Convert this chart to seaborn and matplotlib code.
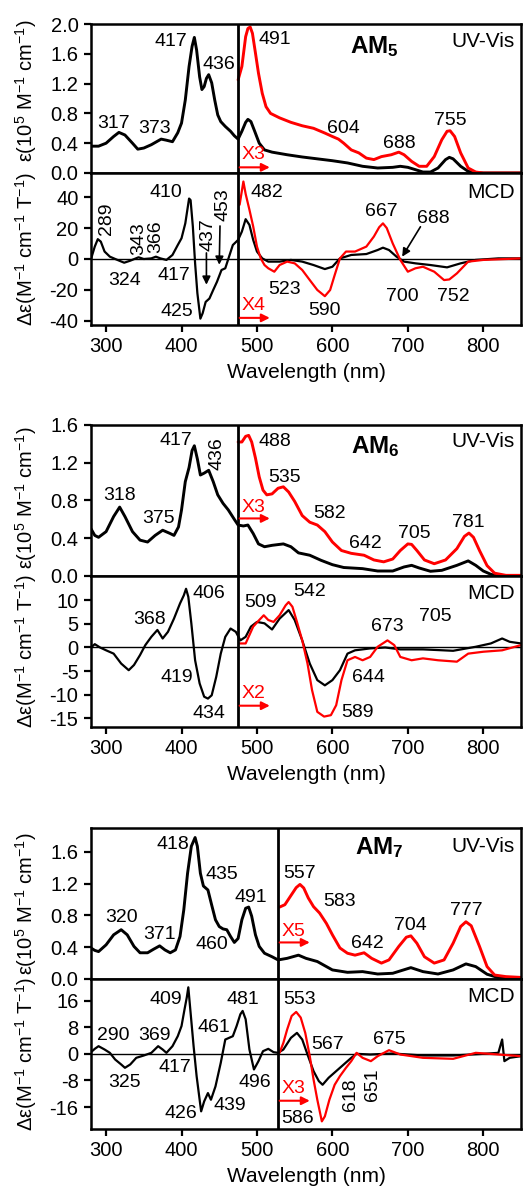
import numpy as np
import pandas as pd
import matplotlib
matplotlib.use("Agg")
import matplotlib.pyplot as plt
import seaborn as sns

# ---------------- DATA ----------------
# AM5 UV-Vis (1e5 M-1 cm-1)
am5_uv_wl = [280,290,300,310,317,325,335,342,350,360,373,380,388,395,400,405,410,414,417,420,424,427,430,433,436,440,444,448,452,458,465,470,475,480,485,488,492,497,503,510,520,540,560,580,600,620,640,660,680,690,700,710,720,730,740,750,755,760,770,780,790,800,850]
am5_uv_black = [0.36,0.36,0.40,0.49,0.545,0.51,0.40,0.32,0.335,0.38,0.455,0.44,0.42,0.54,0.67,0.98,1.43,1.70,1.82,1.65,1.29,1.12,1.16,1.27,1.32,1.21,0.98,0.78,0.69,0.625,0.56,0.50,0.455,0.56,0.68,0.72,0.69,0.56,0.40,0.31,0.28,0.245,0.215,0.19,0.165,0.135,0.09,0.067,0.076,0.09,0.076,0.045,0.013,0.013,0.067,0.18,0.21,0.19,0.09,0.022,0.005,0.0,0.0]
am5_uvx_wl = [475,480,485,488,491,494,498,502,507,512,518,530,545,560,575,590,600,608,615,625,635,645,655,665,678,688,695,705,715,725,735,745,752,756,762,770,780,790,800,850]
am5_uvx_red = [1.25,1.43,1.83,1.94,1.96,1.875,1.61,1.34,1.07,0.89,0.80,0.74,0.68,0.634,0.60,0.536,0.49,0.455,0.40,0.31,0.27,0.20,0.18,0.22,0.245,0.28,0.245,0.156,0.09,0.09,0.22,0.446,0.56,0.567,0.49,0.27,0.067,0.013,0.0,0.0]
# AM5 MCD
am5_mcd_wl = [280,285,289,293,298,305,315,324,332,343,350,360,366,372,380,388,395,400,405,410,412,415,418,421,425,428,432,437,442,447,453,458,463,468,475,480,485,490,495,500,507,515,530,545,560,575,590,600,610,625,645,660,667,675,685,695,710,730,752,770,790,820,850]
am5_mcd_black = [0,8,12.8,11.2,4.8,1.5,-0.6,-2.4,-1.1,1.1,0,0.4,1.5,0.4,-0.6,2.6,9,13.4,23,39,38,21,-2.8,-22,-38.5,-35,-27.7,-25.5,-20,-14.7,-7.1,-6,1.5,9,12.3,17.7,25.7,22,12.3,4.8,0.4,-1.7,-1.7,-0.6,-1.7,-3.9,-6.5,-5,0.4,2.6,3.2,5.8,7.3,5.8,1.5,-1.7,-2.8,-3.9,-5.4,-2.8,-0.6,0.4,0.4]
am5_mcdx_wl = [477,480,482,485,490,495,500,505,510,515,523,530,540,550,560,570,580,590,597,603,610,618,630,645,655,662,667,672,680,690,700,710,720,735,748,755,765,780,800,850]
am5_mcdx_red = [35,44,50,42,31.8,21,8,0.4,-3.9,-6,-8.2,-3.9,-1.7,-2.8,-7.1,-13.6,-20,-24,-20,-10.4,0.4,4.8,4.8,8,14.5,20.5,23,20,10,-0.6,-8.2,-6,-5,-8.2,-13.6,-13.2,-9.3,-1.7,-0.6,0.4]

# AM6 UV-Vis
am6_uv_wl = [280,285,290,300,310,318,325,335,345,355,365,375,385,390,396,400,405,410,414,417,421,425,430,436,442,448,455,462,470,475,482,488,495,502,510,520,535,545,555,570,585,600,615,640,660,680,695,705,715,730,745,765,780,790,800,810,820,850]
am6_uv_black = [0.50,0.43,0.41,0.47,0.63,0.73,0.63,0.47,0.38,0.36,0.43,0.485,0.45,0.43,0.52,0.70,1.0,1.15,1.33,1.38,1.24,1.07,1.09,1.12,1.0,0.86,0.77,0.70,0.60,0.54,0.53,0.54,0.45,0.34,0.31,0.325,0.34,0.31,0.245,0.22,0.166,0.12,0.09,0.078,0.053,0.053,0.096,0.113,0.085,0.05,0.06,0.113,0.16,0.113,0.053,0.018,0.0,0.0]
am6_uvx_wl = [475,480,485,489,493,498,503,508,513,520,528,535,542,550,560,570,580,590,600,612,625,642,655,668,680,690,700,705,712,722,735,750,765,775,781,787,795,805,815,830,850]
am6_uvx_red = [1.42,1.42,1.48,1.49,1.42,1.25,1.05,0.91,0.86,0.87,0.93,0.945,0.89,0.79,0.64,0.57,0.54,0.47,0.36,0.27,0.24,0.22,0.17,0.15,0.18,0.27,0.34,0.335,0.27,0.17,0.13,0.17,0.29,0.42,0.455,0.41,0.27,0.11,0.03,0.007,0.007]
# AM6 MCD
am6_mcd_wl = [280,285,292,300,310,320,330,337,345,352,360,368,375,382,390,398,403,406,409,413,418,424,430,435,440,446,452,458,465,472,478,485,492,500,510,520,530,542,550,560,570,580,590,600,610,620,630,650,670,690,720,760,790,810,825,835,850]
am6_mcd_black = [0,0.7,0,-0.6,-1.3,-3.4,-4.8,-3.7,-1.6,0.5,2.25,3.7,1.9,3.3,6.1,9.3,11,12.4,10.7,5.1,-2.7,-7.6,-10.4,-10.8,-10.1,-6.2,-1.3,2.25,4.0,3.3,1.5,2.25,4.4,5.4,5.1,3.8,6.1,7.9,5.8,1.5,-3.4,-6.9,-8.0,-6.9,-4.8,-1.3,-0.6,-0.2,0,-0.4,-0.4,-0.7,0.15,0.85,1.9,1.2,0.85]
am6_mcdx_wl = [477,485,495,503,509,515,522,530,538,542,547,553,560,567,573,580,589,598,605,612,620,630,640,650,660,673,682,690,705,720,740,765,780,800,825,850]
am6_mcdx_red = [0.85,0.85,4.4,5.8,6.8,5.8,5.4,6.8,8.9,9.6,8.6,5.4,1.5,-3.4,-9.0,-13.6,-14.6,-14.3,-12.2,-6.9,-2.7,-2.0,-2.7,-2.0,0.15,1.5,0.5,-2.0,-2.7,-2.3,-2.7,-3.0,-1.3,-0.9,-0.6,0.5]

# AM7 UV-Vis
am7_uv_wl = [280,285,290,300,310,320,328,337,345,355,363,371,378,385,392,398,403,408,413,418,421,425,429,435,440,445,450,455,460,465,470,475,480,485,489,493,498,503,510,520,528,540,555,565,580,600,620,640,660,680,704,720,740,760,777,790,805,820,850]
am7_uv_black = [0.39,0.36,0.345,0.43,0.556,0.62,0.556,0.41,0.33,0.33,0.375,0.417,0.366,0.33,0.366,0.535,0.87,1.33,1.67,1.78,1.67,1.33,1.17,1.12,0.93,0.745,0.66,0.63,0.62,0.535,0.46,0.51,0.745,0.89,0.905,0.79,0.556,0.41,0.324,0.28,0.24,0.26,0.30,0.26,0.22,0.114,0.084,0.093,0.063,0.072,0.143,0.093,0.063,0.114,0.19,0.156,0.06,0.017,0.0]
am7_uvx_wl = [530,537,545,552,557,562,568,575,583,592,600,610,620,630,642,652,665,675,688,698,704,712,722,735,748,760,770,777,784,795,805,815,830,850]
am7_uvx_red = [0.905,0.935,1.05,1.15,1.19,1.145,1.02,0.91,0.83,0.70,0.556,0.39,0.324,0.30,0.33,0.26,0.20,0.24,0.41,0.526,0.543,0.45,0.28,0.20,0.24,0.45,0.66,0.72,0.67,0.41,0.156,0.05,0.03,0.02]
# AM7 MCD
am7_mcd_wl = [280,285,290,298,305,312,320,325,332,340,350,360,369,375,380,388,395,400,404,407,409,412,416,420,424,426,430,435,439,445,452,458,463,468,473,478,481,485,490,496,502,508,515,522,528,535,545,553,560,567,575,582,587,595,605,615,625,632,650,680,720,760,800,820,825,828,835,850]
am7_mcd_black = [0.5,1.5,2.3,1.3,0.3,-1.7,-3.2,-4.2,-3.2,-1.2,-0.5,0.3,2.3,1.3,0.3,2.3,5.3,8.35,13.4,17,20,12.4,2.3,-6.7,-13.8,-17.3,-14.3,-11.8,-13.8,-9.8,-2.7,4.3,4.8,5.3,8.35,11.9,12.9,10.4,1.3,-4.7,-2.2,0.8,1.5,0.5,0.3,1.3,4.8,6.3,4.3,-0.2,-5.2,-8.2,-9.3,-7.2,-5.2,-3.2,-1.2,0,-0.2,0.1,-0.5,-0.5,0,0.3,4.3,-2.2,-1.2,-0.7]
am7_mcdx_wl = [530,535,540,546,552,558,564,570,575,580,586,590,596,603,610,618,625,632,640,651,660,675,690,720,760,790,820,850]
am7_mcdx_red = [0.3,3.3,7.3,11.4,12.6,10.9,6.3,-0.7,-7.7,-13.8,-20.3,-18.8,-13.8,-9.3,-6.7,-4.2,-2.2,0.3,-1.2,-2.2,-0.7,1.1,-0.2,-1.2,-1.5,0.3,-0.2,-0.7]

x_ticks = [300, 400, 500, 600, 700, 800]
uv_ticks = [[0.0, 0.4, 0.8, 1.2, 1.6, 2.0], [0.0, 0.4, 0.8, 1.2, 1.6], [0.0, 0.4, 0.8, 1.2, 1.6]]
mcd_ticks = [[-40, -20, 0, 20, 40], [-15, -10, -5, 0, 5, 10], [-16, -8, 0, 8, 16]]
compounds = ["5", "6", "7"]
multipliers_uv = ["X3", "X3", "X5"]
multipliers_mcd = ["X4", "X2", "X3"]
separators = [475, 475, 528]

# ---------------- STYLE ----------------
sns.set_style("ticks")
plt.rcParams['font.family'] = ['Liberation Sans', 'DejaVu Sans']
plt.rcParams['mathtext.fontset'] = 'custom'
plt.rcParams['mathtext.rm'] = 'Liberation Sans'
plt.rcParams['mathtext.default'] = 'regular'
plt.rcParams['axes.unicode_minus'] = False
plt.rcParams['axes.linewidth'] = 1.8
for k in ['text.color', 'axes.labelcolor', 'xtick.color', 'ytick.color', 'axes.edgecolor']:
    plt.rcParams[k] = 'black'

W, H = 523, 1187
fig = plt.figure(figsize=(W / 100, H / 100), dpi=100)

def fa(top, bottom, left=91, right=521):
    return [left / W, 1 - bottom / H, (right - left) / W, (bottom - top) / H]

layout = [((24, 173), (173, 325)), ((425, 576), (576, 727)), ((828, 979), (979, 1129))]
uv_ylim = [(0, 2.0), (0, 1.6), (0, 1.9)]
mcd_ylim = [(-42.6, 55.5), (-16.8, 15.1), (-22.6, 22.5)]

uv_sets = [(am5_uv_wl, am5_uv_black, am5_uvx_wl, am5_uvx_red),
           (am6_uv_wl, am6_uv_black, am6_uvx_wl, am6_uvx_red),
           (am7_uv_wl, am7_uv_black, am7_uvx_wl, am7_uvx_red)]
mcd_sets = [(am5_mcd_wl, am5_mcd_black, am5_mcdx_wl, am5_mcdx_red),
            (am6_mcd_wl, am6_mcd_black, am6_mcdx_wl, am6_mcdx_red),
            (am7_mcd_wl, am7_mcd_black, am7_mcdx_wl, am7_mcdx_red)]

RED = '#ff0000'
FS = 14
TFS = 14.5

def line(ax, x, y, color, lw=2.0):
    df = pd.DataFrame({'wl': x, 'v': y})
    sns.lineplot(data=df, x='wl', y='v', ax=ax, color=color, lw=lw,
                 estimator=None, sort=False)

uv_ann = [
    [(386, 1.76, "417", 0), (450, 1.45, "436", 0), (310, 0.67, "317", 0), (364, 0.60, "373", 0),
     (524, 1.79, "491", 0), (614, 0.60, "604", 0), (689, 0.40, "688", 0), (756, 0.71, "755", 0)],
    [(393, 1.44, "417", 0), (447, 1.30, "436", 90), (317.5, 0.85, "318", 0), (370, 0.61, "375", 0),
     (524, 1.42, "488", 0), (537, 1.04, "535", 0), (596, 0.66, "582", 0), (644, 0.34, "642", 0),
     (708, 0.45, "705", 0), (780, 0.57, "781", 0)],
    [(388, 1.69, "418", 0), (453.5, 1.31, "435", 0), (492, 1.03, "491", 0), (320, 0.77, "320", 0),
     (371.5, 0.556, "371", 0), (440, 0.43, "460", 0), (556, 1.33, "557", 0), (609, 0.98, "583", 0),
     (646.5, 0.45, "642", 0), (703.5, 0.67, "704", 0), (778, 0.86, "777", 0)],
]
mcd_ann = [
    [(300, 25.7, "289", 90), (343, 13.4, "343", 90), (366, 14.5, "366", 90), (325, -13.6, "324", 0),
     (390, -10.4, "417", 0), (394, -34, "425", 0), (379, 42.8, "410", 0), (435.5, 15.5, "437", 90),
     (454.6, 35, "453", 90), (513, 43, "482", 0), (537, -20, "523", 0), (589, -33, "590", 0),
     (665, 30.7, "667", 0), (734, 26.2, "688", 0), (693, -24, "700", 0), (760, -24, "752", 0)],
    [(436, 11.4, "406", 0), (357, 5.9, "368", 0), (394, -6.3, "419", 0), (436, -13.9, "434", 0),
     (505, 9.4, "509", 0), (570, 11.8, "542", 0), (673, 4.5, "673", 0), (736, 6.5, "705", 0),
     (648, -6.3, "644", 0), (633, -13.8, "589", 0)],
    [(379, 16.4, "409", 0), (481, 16.4, "481", 0), (556, 16.4, "553", 0), (309, 5.5, "290", 0),
     (364.5, 5.5, "369", 0), (442.5, 8.0, "461", 0), (594, 2.8, "567", 0), (675, 4.3, "675", 0),
     (324, -8.6, "325", 0), (391, -4.2, "417", 0), (399, -17.8, "426", 0), (464.5, -15.6, "439", 0),
     (497, -8.75, "496", 0), (554, -19.3, "586", 0), (624.5, -12.3, "618", 90), (653, -9.3, "651", 90)],
]
mcd_arrows = [
    [((433, 3.9), (433, -16.6)), ((451, 21.3), (450, -3.7)), ((716.7, 20.8), (692.5, 1.5))],
    [], [],
]
am_pos = [(656, 1.70), (657, 1.37), (662, 1.65)]
uv_label_y = [0.88, 0.89, 0.88]
mcd_label_y = [0.87, 0.885, 0.88]
uv_ylabel_y = [0.55, 0.52, 0.5]
xmult_uv = [(495, 0.25, 0.076), (495, 0.73, 0.61), (548, 0.60, 0.46)]
xmult_mcd = [(495, -30, -38), (495, -9.7, -12.3), (548, -10.3, -14.1)]

for g in range(3):
    (ut, ub), (mt, mb) = layout[g]
    ax_uv = fig.add_axes(fa(ut, ub))
    ax_m = fig.add_axes(fa(mt, mb))
    sep = separators[g]

    wl, bk, wlx, rd = uv_sets[g]
    line(ax_uv, wl, bk, 'black', lw=2.1)
    line(ax_uv, wlx, rd, RED, lw=2.1)
    wl, bk, wlx, rd = mcd_sets[g]
    ax_m.axhline(0, color='black', lw=1.0, zorder=1)
    line(ax_m, wl, bk, 'black', lw=1.6)
    line(ax_m, wlx, rd, RED, lw=1.6)

    for ax in (ax_uv, ax_m):
        ax.axvline(sep, color='black', lw=2.0, zorder=3)
        ax.set_xlim(280, 850)
        ax.set_xticks(x_ticks)
        ax.tick_params(axis='both', direction='out', length=5, width=1.6,
                       labelsize=TFS, pad=4, colors='black')
        for s in ax.spines.values():
            s.set_linewidth(1.8)
            s.set_color('black')
        ax.set_xlabel('')
    ax_uv.set_ylim(*uv_ylim[g])
    ax_uv.set_yticks(uv_ticks[g])
    ax_uv.set_yticklabels([f"{t:.1f}" for t in uv_ticks[g]])
    ax_uv.tick_params(axis='x', length=0, labelbottom=False)
    ax_m.set_ylim(*mcd_ylim[g])
    ax_m.set_yticks(mcd_ticks[g])
    ax_m.set_yticklabels([str(t) for t in mcd_ticks[g]])
    ax_m.set_xlabel('Wavelength (nm)', fontsize=15, labelpad=5)

    ax_uv.set_ylabel(r'ε(10$^{5}$ M$^{-1}$ cm$^{-1}$)', fontsize=14.5)
    ax_m.set_ylabel(r'Δε(M$^{-1}$ cm$^{-1}$ T$^{-1}$)', fontsize=14.5)
    ax_uv.yaxis.set_label_coords(-0.12, uv_ylabel_y[g])
    ax_m.yaxis.set_label_coords(-0.12, 0.5)

    for (x, y, s, r) in uv_ann[g]:
        ax_uv.text(x, y, s, ha='center', va='center', fontsize=FS, rotation=r, zorder=5)
    for (x, y, s, r) in mcd_ann[g]:
        ax_m.text(x, y, s, ha='center', va='center', fontsize=FS, rotation=r, zorder=5)
    for (p0, p1) in mcd_arrows[g]:
        ax_m.annotate('', xy=p1, xytext=p0,
                      arrowprops=dict(arrowstyle='-|>', color='black', lw=1.2,
                                      mutation_scale=12, shrinkA=0, shrinkB=0))

    ax_uv.text(am_pos[g][0], am_pos[g][1], f'AM$_{{{compounds[g]}}}$', ha='center', va='center',
               fontsize=17.5, fontweight='bold')
    ax_uv.text(0.985, uv_label_y[g], 'UV-Vis', transform=ax_uv.transAxes, ha='right',
               va='center', fontsize=15)
    ax_m.text(0.985, mcd_label_y[g], 'MCD', transform=ax_m.transAxes, ha='right',
              va='center', fontsize=15)

    xm, yt, ya = xmult_uv[g]
    ax_uv.text(xm, yt, multipliers_uv[g], color=RED, ha='center', va='center', fontsize=FS)
    ax_uv.annotate('', xy=(sep + 42, ya), xytext=(sep + 2, ya),
                   arrowprops=dict(arrowstyle='-|>', color=RED, lw=1.5,
                                   mutation_scale=12, shrinkA=0, shrinkB=0))
    xm, yt, ya = xmult_mcd[g]
    ax_m.text(xm, yt, multipliers_mcd[g], color=RED, ha='center', va='center', fontsize=FS)
    ax_m.annotate('', xy=(sep + 42, ya), xytext=(sep + 2, ya),
                  arrowprops=dict(arrowstyle='-|>', color=RED, lw=1.5,
                                  mutation_scale=12, shrinkA=0, shrinkB=0))

fig.savefig('out.png', dpi=100)
